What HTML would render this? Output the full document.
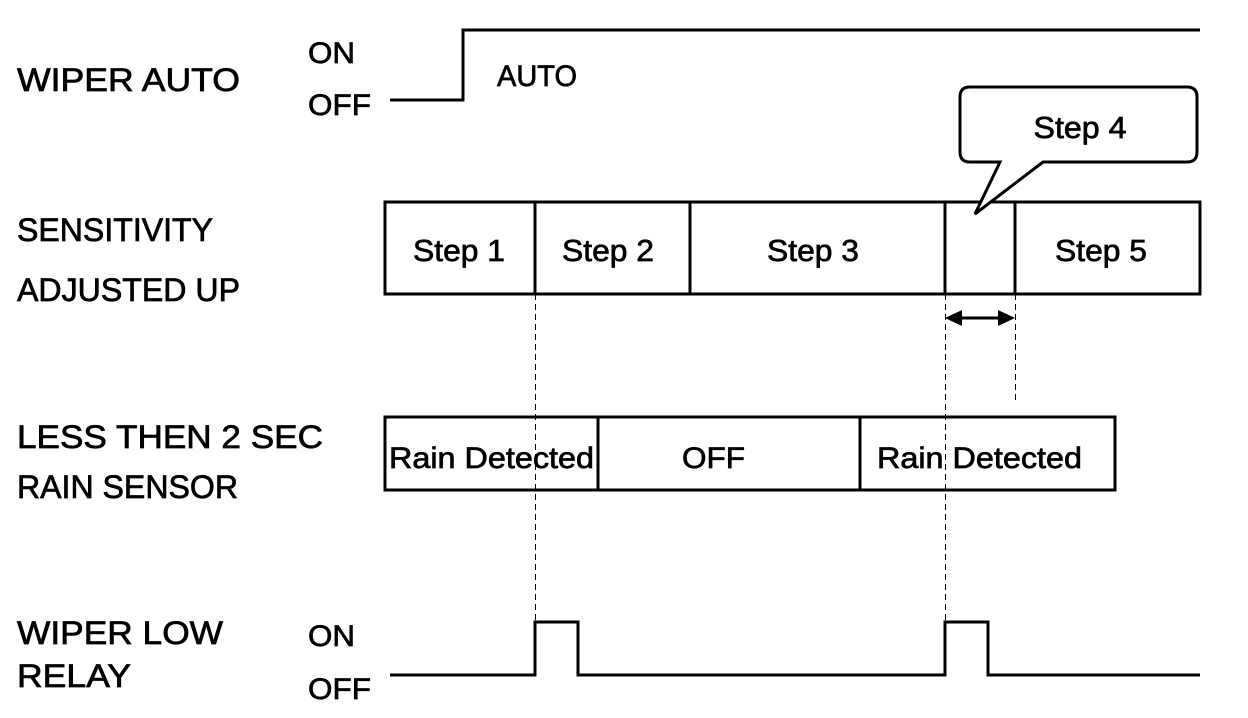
<!DOCTYPE html>
<html><head><meta charset="utf-8"><style>
html,body{margin:0;padding:0;background:#fff;width:1248px;height:718px;overflow:hidden}
text{font-family:"Liberation Sans",Arial,sans-serif;fill:#000;stroke:#000;stroke-width:0.7}
</style></head><body>
<svg width="1248" height="718" viewBox="0 0 1248 718" xmlns="http://www.w3.org/2000/svg">
<g font-size="32">
<text x="17" y="91" textLength="223" lengthAdjust="spacingAndGlyphs">WIPER AUTO</text>
<text x="17" y="241" textLength="196" lengthAdjust="spacingAndGlyphs">SENSITIVITY</text>
<text x="17" y="301" textLength="223" lengthAdjust="spacingAndGlyphs">ADJUSTED UP</text>
<text x="17" y="448" textLength="306" lengthAdjust="spacingAndGlyphs">LESS THEN 2 SEC</text>
<text x="17" y="498" textLength="221" lengthAdjust="spacingAndGlyphs">RAIN SENSOR</text>
<text x="17" y="644" textLength="206" lengthAdjust="spacingAndGlyphs">WIPER LOW</text>
<text x="17" y="687" textLength="114" lengthAdjust="spacingAndGlyphs">RELAY</text>
</g>
<g font-size="30">
<text x="308" y="63" textLength="47" lengthAdjust="spacingAndGlyphs">ON</text>
<text x="308" y="115" textLength="63" lengthAdjust="spacingAndGlyphs">OFF</text>
<text x="308" y="646" textLength="47" lengthAdjust="spacingAndGlyphs">ON</text>
<text x="308" y="699" textLength="63" lengthAdjust="spacingAndGlyphs">OFF</text>
<text x="497" y="86" textLength="80" lengthAdjust="spacingAndGlyphs">AUTO</text>
</g>
<g fill="none" stroke="#000" stroke-width="3">
<polyline points="390,100 463,100 463,30 1200,30"/>
<rect x="385" y="202" width="815" height="92"/>
<line x1="535" y1="202" x2="535" y2="294"/>
<line x1="690" y1="202" x2="690" y2="294"/>
<line x1="945" y1="202" x2="945" y2="294"/>
<line x1="1015" y1="202" x2="1015" y2="294"/>
<rect x="385" y="417" width="730" height="73"/>
<line x1="598" y1="417" x2="598" y2="490"/>
<line x1="860" y1="417" x2="860" y2="490"/>
<polyline points="390,675 535,675 535,622 578,622 578,675 945,675 945,622 988,622 988,675 1200,675"/>
<path d="M970,87 H1187 Q1197,87 1197,97 V152 Q1197,162 1187,162 H1043 L975,214 L1000,162 H970 Q960,162 960,152 V97 Q960,87 970,87 Z" fill="#fff"/>
<line x1="955" y1="318" x2="1005" y2="318"/>
</g>
<g stroke="#000" stroke-width="1" stroke-dasharray="6,4">
<line x1="535.5" y1="294" x2="535.5" y2="620"/>
<line x1="945.5" y1="294" x2="945.5" y2="620"/>
<line x1="1015.5" y1="294" x2="1015.5" y2="402"/>
</g>
<polygon points="945,318 962,310 962,326" fill="#000"/>
<polygon points="1015,318 998,310 998,326" fill="#000"/>
<g font-size="31" text-anchor="middle">
<text x="1080" y="138" textLength="93" lengthAdjust="spacingAndGlyphs">Step 4</text>
<text x="459" y="261" textLength="92" lengthAdjust="spacingAndGlyphs">Step 1</text>
<text x="608" y="261" textLength="92" lengthAdjust="spacingAndGlyphs">Step 2</text>
<text x="813" y="261" textLength="92" lengthAdjust="spacingAndGlyphs">Step 3</text>
<text x="1101" y="261" textLength="92" lengthAdjust="spacingAndGlyphs">Step 5</text>
</g>
<g font-size="30">
<text x="389" y="468" textLength="205" lengthAdjust="spacingAndGlyphs">Rain Detected</text>
<text x="682" y="468" textLength="63" lengthAdjust="spacingAndGlyphs">OFF</text>
<text x="877" y="468" textLength="205" lengthAdjust="spacingAndGlyphs">Rain Detected</text>
</g>
</svg>
</body></html>
